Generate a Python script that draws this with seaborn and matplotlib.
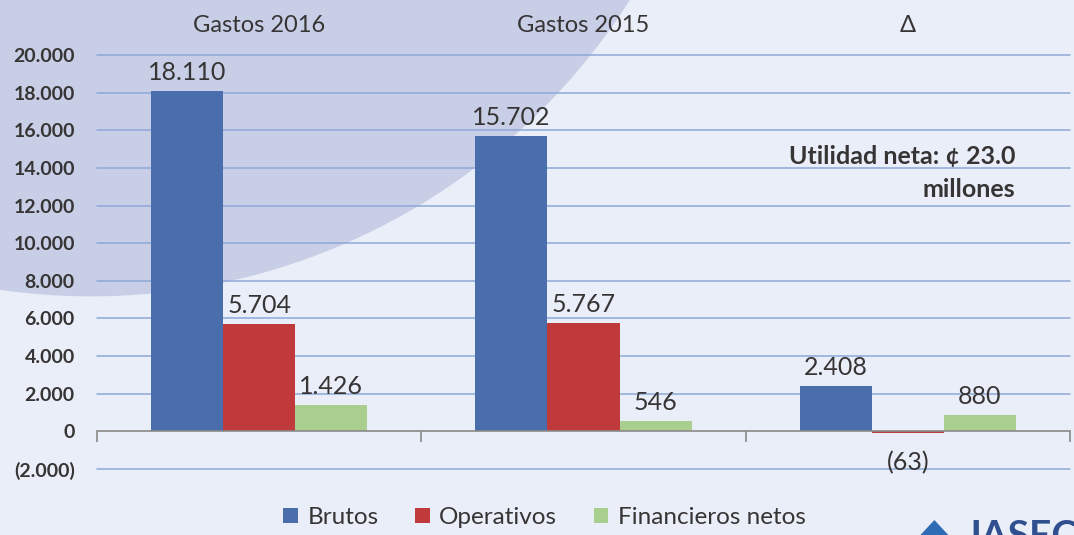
import pandas as pd
import seaborn as sns
import matplotlib.pyplot as plt
from matplotlib.patches import Ellipse, Polygon
from matplotlib.ticker import FuncFormatter

# -------------------------
# data
# -------------------------
grupos = ["Gastos 2016", "Gastos 2015", "Δ"]
tipos = ["Brutos", "Operativos", "Financieros netos"]
brutos = [18110, 15702, 2408]
operativos = [5704, 5767, -63]
financieros = [1426, 546, 880]

colores = ["#4a6dac", "#c0393b", "#a8cf8e"]
texto = "#363434"

df = pd.DataFrame({
    "grupo": grupos * 3,
    "tipo": [t for t in tipos for _ in grupos],
    "valor": brutos + operativos + financieros,
})


def fmt(v, pos=None):
    s = f"{abs(v):,.0f}".replace(",", ".")
    return f"({s})" if v < 0 else s


sns.set_theme(style="white")
plt.rcParams["font.family"] = ["Lato", "DejaVu Sans"]

fig = plt.figure(figsize=(10.74, 5.35), dpi=100, facecolor="#eaeef8")
# decorative circle in the background
fig.add_artist(Ellipse((0.085, 1.646), 1.19, 2.40, transform=fig.transFigure,
                       facecolor="#c8cee5", edgecolor="none", zorder=0))

ax = fig.add_axes([97 / 1074, 1 - 469 / 535, (1070 - 97) / 1074, (469 - 55) / 535])
ax.set_facecolor("none")

sns.barplot(data=df, x="grupo", y="valor", hue="tipo", order=grupos,
            hue_order=tipos, palette=colores, width=0.667, gap=0,
            saturation=1, linewidth=0, edgecolor="none", ax=ax, zorder=3)

ax.set_ylim(-2000, 20000)
ax.set_xlim(-0.5, 2.5)
ax.set_yticks(range(-2000, 20001, 2000))
ax.yaxis.set_major_formatter(FuncFormatter(fmt))
ax.tick_params(axis="y", length=0, pad=16, labelsize=14, labelcolor=texto)
for lab in ax.get_yticklabels():
    lab.set_fontweight("bold")

# gridlines
for y in range(-2000, 20001, 2000):
    if y != 0:
        ax.axhline(y, color="#8ea8d8", lw=1.1, zorder=1, clip_on=False)

for s in ["top", "right", "left"]:
    ax.spines[s].set_visible(False)
ax.spines["bottom"].set_position(("data", 0))
ax.spines["bottom"].set_color("#8a8a8a")
ax.spines["bottom"].set_linewidth(1.2)
ax.spines["bottom"].set_zorder(4)

# group labels on top, boundary ticks on the zero line
ax.set_xticks([-0.5, 0.5, 1.5, 2.5], minor=True)
ax.tick_params(axis="x", which="major", bottom=False, labelbottom=False,
               top=False, labeltop=True, length=0, pad=14, labelsize=17,
               labelcolor=texto)
ax.tick_params(axis="x", which="minor", bottom=True, direction="out",
               length=8, width=1.2, color="#8a8a8a")
ax.set_xlabel("")
ax.set_ylabel("")

# data labels
for cont in ax.containers:
    for bar in cont:
        v = bar.get_y() + bar.get_height() if bar.get_y() >= 0 else bar.get_y()
        if bar.get_height() < 0:
            v = bar.get_height()
        xc = bar.get_x() + bar.get_width() / 2
        if v >= 0:
            ax.annotate(fmt(v), (xc, v), xytext=(0, 5), textcoords="offset points",
                        ha="center", va="bottom", fontsize=18, color=texto, zorder=5)
        else:
            ax.annotate(fmt(v), (xc, v), xytext=(0, -13), textcoords="offset points",
                        ha="center", va="top", fontsize=18, color=texto, zorder=5)

ax.text(0.944, 0.754, "Utilidad neta: ¢ 23.0", transform=ax.transAxes,
        ha="right", va="center", fontsize=18, fontweight="bold", color=texto)
ax.text(0.944, 0.674, "millones", transform=ax.transAxes,
        ha="right", va="center", fontsize=18, fontweight="bold", color=texto)

leg = ax.legend(loc="center", bbox_to_anchor=(0.507, 0.033),
                bbox_transform=fig.transFigure, ncol=3, frameon=False,
                fontsize=17.5, handlelength=0.6, handleheight=0.6,
                handletextpad=0.4, columnspacing=1.5)
for t in leg.get_texts():
    t.set_color(texto)

# logo cut off at the bottom edge
fig.add_artist(Polygon([(0.857, 0.0), (0.870, 0.028), (0.883, 0.0)],
                       closed=True, transform=fig.transFigure,
                       facecolor="#2e6db4", edgecolor="none"))
fig.text(0.898, -0.035, "JASEC", ha="left", va="bottom", fontsize=28,
         fontweight="bold", color="#2f4f8f")

fig.savefig("out.png", dpi=100, facecolor=fig.get_facecolor())
